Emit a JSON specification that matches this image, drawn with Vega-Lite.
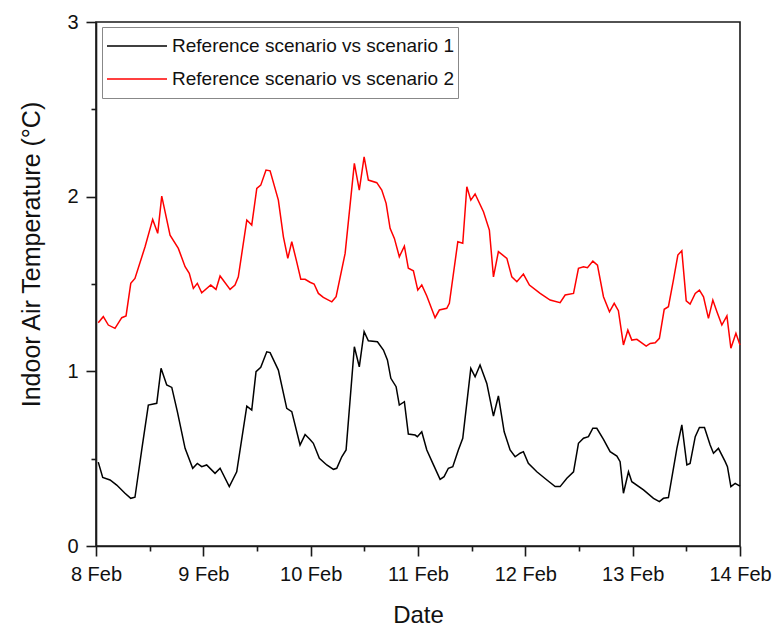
{
  "$schema": "https://vega.github.io/schema/vega-lite/v6.json",
  "autosize": "none",
  "width": 644,
  "height": 524,
  "padding": {"left": 96, "top": 22, "right": 41, "bottom": 82},
  "background": "white",
  "config": {
    "font": "Liberation Sans",
    "view": {"stroke": "#1a1a1a", "strokeWidth": 1.6}
  },
  "data": {"values": [
    {"s": "Reference scenario vs scenario 1", "d": 8.021, "v": 0.48},
    {"s": "Reference scenario vs scenario 1", "d": 8.0625, "v": 0.393},
    {"s": "Reference scenario vs scenario 1", "d": 8.131, "v": 0.378},
    {"s": "Reference scenario vs scenario 1", "d": 8.193, "v": 0.349},
    {"s": "Reference scenario vs scenario 1", "d": 8.27, "v": 0.302},
    {"s": "Reference scenario vs scenario 1", "d": 8.324, "v": 0.273},
    {"s": "Reference scenario vs scenario 1", "d": 8.363, "v": 0.279},
    {"s": "Reference scenario vs scenario 1", "d": 8.426, "v": 0.55},
    {"s": "Reference scenario vs scenario 1", "d": 8.4875, "v": 0.807},
    {"s": "Reference scenario vs scenario 1", "d": 8.566, "v": 0.817},
    {"s": "Reference scenario vs scenario 1", "d": 8.606, "v": 1.017},
    {"s": "Reference scenario vs scenario 1", "d": 8.659, "v": 0.922},
    {"s": "Reference scenario vs scenario 1", "d": 8.706, "v": 0.908},
    {"s": "Reference scenario vs scenario 1", "d": 8.758, "v": 0.769},
    {"s": "Reference scenario vs scenario 1", "d": 8.83, "v": 0.559},
    {"s": "Reference scenario vs scenario 1", "d": 8.901, "v": 0.445},
    {"s": "Reference scenario vs scenario 1", "d": 8.944, "v": 0.473},
    {"s": "Reference scenario vs scenario 1", "d": 8.985, "v": 0.454},
    {"s": "Reference scenario vs scenario 1", "d": 9.031, "v": 0.464},
    {"s": "Reference scenario vs scenario 1", "d": 9.109, "v": 0.416},
    {"s": "Reference scenario vs scenario 1", "d": 9.156, "v": 0.445},
    {"s": "Reference scenario vs scenario 1", "d": 9.242, "v": 0.34},
    {"s": "Reference scenario vs scenario 1", "d": 9.311, "v": 0.425},
    {"s": "Reference scenario vs scenario 1", "d": 9.405, "v": 0.801},
    {"s": "Reference scenario vs scenario 1", "d": 9.451, "v": 0.778},
    {"s": "Reference scenario vs scenario 1", "d": 9.491, "v": 0.998},
    {"s": "Reference scenario vs scenario 1", "d": 9.535, "v": 1.023},
    {"s": "Reference scenario vs scenario 1", "d": 9.591, "v": 1.112},
    {"s": "Reference scenario vs scenario 1", "d": 9.622, "v": 1.107},
    {"s": "Reference scenario vs scenario 1", "d": 9.699, "v": 1.007},
    {"s": "Reference scenario vs scenario 1", "d": 9.777, "v": 0.788},
    {"s": "Reference scenario vs scenario 1", "d": 9.824, "v": 0.769},
    {"s": "Reference scenario vs scenario 1", "d": 9.901, "v": 0.578},
    {"s": "Reference scenario vs scenario 1", "d": 9.948, "v": 0.638},
    {"s": "Reference scenario vs scenario 1", "d": 9.994, "v": 0.61},
    {"s": "Reference scenario vs scenario 1", "d": 10.025, "v": 0.588},
    {"s": "Reference scenario vs scenario 1", "d": 10.081, "v": 0.502},
    {"s": "Reference scenario vs scenario 1", "d": 10.15, "v": 0.464},
    {"s": "Reference scenario vs scenario 1", "d": 10.212, "v": 0.439},
    {"s": "Reference scenario vs scenario 1", "d": 10.243, "v": 0.445},
    {"s": "Reference scenario vs scenario 1", "d": 10.29, "v": 0.511},
    {"s": "Reference scenario vs scenario 1", "d": 10.33, "v": 0.55},
    {"s": "Reference scenario vs scenario 1", "d": 10.407, "v": 1.141},
    {"s": "Reference scenario vs scenario 1", "d": 10.453, "v": 1.026},
    {"s": "Reference scenario vs scenario 1", "d": 10.498, "v": 1.227},
    {"s": "Reference scenario vs scenario 1", "d": 10.5375, "v": 1.175},
    {"s": "Reference scenario vs scenario 1", "d": 10.622, "v": 1.169},
    {"s": "Reference scenario vs scenario 1", "d": 10.678, "v": 1.122},
    {"s": "Reference scenario vs scenario 1", "d": 10.715, "v": 1.065},
    {"s": "Reference scenario vs scenario 1", "d": 10.747, "v": 0.96},
    {"s": "Reference scenario vs scenario 1", "d": 10.796, "v": 0.912},
    {"s": "Reference scenario vs scenario 1", "d": 10.826, "v": 0.807},
    {"s": "Reference scenario vs scenario 1", "d": 10.873, "v": 0.826},
    {"s": "Reference scenario vs scenario 1", "d": 10.91, "v": 0.641},
    {"s": "Reference scenario vs scenario 1", "d": 10.973, "v": 0.635},
    {"s": "Reference scenario vs scenario 1", "d": 10.994, "v": 0.626},
    {"s": "Reference scenario vs scenario 1", "d": 11.035, "v": 0.654},
    {"s": "Reference scenario vs scenario 1", "d": 11.082, "v": 0.55},
    {"s": "Reference scenario vs scenario 1", "d": 11.138, "v": 0.473},
    {"s": "Reference scenario vs scenario 1", "d": 11.206, "v": 0.382},
    {"s": "Reference scenario vs scenario 1", "d": 11.243, "v": 0.397},
    {"s": "Reference scenario vs scenario 1", "d": 11.283, "v": 0.445},
    {"s": "Reference scenario vs scenario 1", "d": 11.324, "v": 0.454},
    {"s": "Reference scenario vs scenario 1", "d": 11.376, "v": 0.55},
    {"s": "Reference scenario vs scenario 1", "d": 11.417, "v": 0.617},
    {"s": "Reference scenario vs scenario 1", "d": 11.492, "v": 1.017},
    {"s": "Reference scenario vs scenario 1", "d": 11.532, "v": 0.969},
    {"s": "Reference scenario vs scenario 1", "d": 11.578, "v": 1.036},
    {"s": "Reference scenario vs scenario 1", "d": 11.641, "v": 0.931},
    {"s": "Reference scenario vs scenario 1", "d": 11.703, "v": 0.744},
    {"s": "Reference scenario vs scenario 1", "d": 11.749, "v": 0.859},
    {"s": "Reference scenario vs scenario 1", "d": 11.803, "v": 0.654},
    {"s": "Reference scenario vs scenario 1", "d": 11.858, "v": 0.55},
    {"s": "Reference scenario vs scenario 1", "d": 11.905, "v": 0.511},
    {"s": "Reference scenario vs scenario 1", "d": 11.951, "v": 0.531},
    {"s": "Reference scenario vs scenario 1", "d": 11.982, "v": 0.54},
    {"s": "Reference scenario vs scenario 1", "d": 12.028, "v": 0.473},
    {"s": "Reference scenario vs scenario 1", "d": 12.107, "v": 0.425},
    {"s": "Reference scenario vs scenario 1", "d": 12.201, "v": 0.378},
    {"s": "Reference scenario vs scenario 1", "d": 12.278, "v": 0.34},
    {"s": "Reference scenario vs scenario 1", "d": 12.324, "v": 0.34},
    {"s": "Reference scenario vs scenario 1", "d": 12.387, "v": 0.388},
    {"s": "Reference scenario vs scenario 1", "d": 12.449, "v": 0.425},
    {"s": "Reference scenario vs scenario 1", "d": 12.495, "v": 0.588},
    {"s": "Reference scenario vs scenario 1", "d": 12.542, "v": 0.617},
    {"s": "Reference scenario vs scenario 1", "d": 12.588, "v": 0.626},
    {"s": "Reference scenario vs scenario 1", "d": 12.629, "v": 0.674},
    {"s": "Reference scenario vs scenario 1", "d": 12.666, "v": 0.674},
    {"s": "Reference scenario vs scenario 1", "d": 12.728, "v": 0.611},
    {"s": "Reference scenario vs scenario 1", "d": 12.79, "v": 0.54},
    {"s": "Reference scenario vs scenario 1", "d": 12.853, "v": 0.515},
    {"s": "Reference scenario vs scenario 1", "d": 12.883, "v": 0.483},
    {"s": "Reference scenario vs scenario 1", "d": 12.914, "v": 0.302},
    {"s": "Reference scenario vs scenario 1", "d": 12.961, "v": 0.425},
    {"s": "Reference scenario vs scenario 1", "d": 12.992, "v": 0.368},
    {"s": "Reference scenario vs scenario 1", "d": 13.101, "v": 0.321},
    {"s": "Reference scenario vs scenario 1", "d": 13.194, "v": 0.273},
    {"s": "Reference scenario vs scenario 1", "d": 13.249, "v": 0.254},
    {"s": "Reference scenario vs scenario 1", "d": 13.287, "v": 0.273},
    {"s": "Reference scenario vs scenario 1", "d": 13.333, "v": 0.277},
    {"s": "Reference scenario vs scenario 1", "d": 13.412, "v": 0.559},
    {"s": "Reference scenario vs scenario 1", "d": 13.458, "v": 0.693},
    {"s": "Reference scenario vs scenario 1", "d": 13.505, "v": 0.464},
    {"s": "Reference scenario vs scenario 1", "d": 13.535, "v": 0.473},
    {"s": "Reference scenario vs scenario 1", "d": 13.583, "v": 0.626},
    {"s": "Reference scenario vs scenario 1", "d": 13.622, "v": 0.679},
    {"s": "Reference scenario vs scenario 1", "d": 13.669, "v": 0.679},
    {"s": "Reference scenario vs scenario 1", "d": 13.722, "v": 0.578},
    {"s": "Reference scenario vs scenario 1", "d": 13.753, "v": 0.531},
    {"s": "Reference scenario vs scenario 1", "d": 13.799, "v": 0.559},
    {"s": "Reference scenario vs scenario 1", "d": 13.862, "v": 0.483},
    {"s": "Reference scenario vs scenario 1", "d": 13.883, "v": 0.454},
    {"s": "Reference scenario vs scenario 1", "d": 13.915, "v": 0.34},
    {"s": "Reference scenario vs scenario 1", "d": 13.955, "v": 0.359},
    {"s": "Reference scenario vs scenario 1", "d": 14.0, "v": 0.343},
    {"s": "Reference scenario vs scenario 2", "d": 8.021, "v": 1.278},
    {"s": "Reference scenario vs scenario 2", "d": 8.068, "v": 1.313},
    {"s": "Reference scenario vs scenario 2", "d": 8.115, "v": 1.265},
    {"s": "Reference scenario vs scenario 2", "d": 8.177, "v": 1.246},
    {"s": "Reference scenario vs scenario 2", "d": 8.24, "v": 1.307},
    {"s": "Reference scenario vs scenario 2", "d": 8.28, "v": 1.317},
    {"s": "Reference scenario vs scenario 2", "d": 8.324, "v": 1.504},
    {"s": "Reference scenario vs scenario 2", "d": 8.363, "v": 1.532},
    {"s": "Reference scenario vs scenario 2", "d": 8.457, "v": 1.713},
    {"s": "Reference scenario vs scenario 2", "d": 8.528, "v": 1.87},
    {"s": "Reference scenario vs scenario 2", "d": 8.575, "v": 1.79},
    {"s": "Reference scenario vs scenario 2", "d": 8.6125, "v": 2.003},
    {"s": "Reference scenario vs scenario 2", "d": 8.69, "v": 1.78},
    {"s": "Reference scenario vs scenario 2", "d": 8.767, "v": 1.704},
    {"s": "Reference scenario vs scenario 2", "d": 8.83, "v": 1.599},
    {"s": "Reference scenario vs scenario 2", "d": 8.869, "v": 1.561},
    {"s": "Reference scenario vs scenario 2", "d": 8.907, "v": 1.475},
    {"s": "Reference scenario vs scenario 2", "d": 8.944, "v": 1.504},
    {"s": "Reference scenario vs scenario 2", "d": 8.985, "v": 1.45},
    {"s": "Reference scenario vs scenario 2", "d": 9.069, "v": 1.494},
    {"s": "Reference scenario vs scenario 2", "d": 9.118, "v": 1.469},
    {"s": "Reference scenario vs scenario 2", "d": 9.156, "v": 1.546},
    {"s": "Reference scenario vs scenario 2", "d": 9.249, "v": 1.469},
    {"s": "Reference scenario vs scenario 2", "d": 9.295, "v": 1.494},
    {"s": "Reference scenario vs scenario 2", "d": 9.326, "v": 1.541},
    {"s": "Reference scenario vs scenario 2", "d": 9.405, "v": 1.866},
    {"s": "Reference scenario vs scenario 2", "d": 9.451, "v": 1.837},
    {"s": "Reference scenario vs scenario 2", "d": 9.498, "v": 2.047},
    {"s": "Reference scenario vs scenario 2", "d": 9.535, "v": 2.066},
    {"s": "Reference scenario vs scenario 2", "d": 9.584, "v": 2.152},
    {"s": "Reference scenario vs scenario 2", "d": 9.622, "v": 2.148},
    {"s": "Reference scenario vs scenario 2", "d": 9.699, "v": 1.98},
    {"s": "Reference scenario vs scenario 2", "d": 9.746, "v": 1.77},
    {"s": "Reference scenario vs scenario 2", "d": 9.787, "v": 1.647},
    {"s": "Reference scenario vs scenario 2", "d": 9.824, "v": 1.742},
    {"s": "Reference scenario vs scenario 2", "d": 9.87, "v": 1.627},
    {"s": "Reference scenario vs scenario 2", "d": 9.908, "v": 1.527},
    {"s": "Reference scenario vs scenario 2", "d": 9.948, "v": 1.527},
    {"s": "Reference scenario vs scenario 2", "d": 9.994, "v": 1.51},
    {"s": "Reference scenario vs scenario 2", "d": 10.032, "v": 1.5},
    {"s": "Reference scenario vs scenario 2", "d": 10.072, "v": 1.446},
    {"s": "Reference scenario vs scenario 2", "d": 10.118, "v": 1.423},
    {"s": "Reference scenario vs scenario 2", "d": 10.197, "v": 1.398},
    {"s": "Reference scenario vs scenario 2", "d": 10.237, "v": 1.427},
    {"s": "Reference scenario vs scenario 2", "d": 10.321, "v": 1.675},
    {"s": "Reference scenario vs scenario 2", "d": 10.407, "v": 2.191},
    {"s": "Reference scenario vs scenario 2", "d": 10.453, "v": 2.038},
    {"s": "Reference scenario vs scenario 2", "d": 10.498, "v": 2.228},
    {"s": "Reference scenario vs scenario 2", "d": 10.5375, "v": 2.095},
    {"s": "Reference scenario vs scenario 2", "d": 10.616, "v": 2.08},
    {"s": "Reference scenario vs scenario 2", "d": 10.6625, "v": 2.038},
    {"s": "Reference scenario vs scenario 2", "d": 10.703, "v": 1.962},
    {"s": "Reference scenario vs scenario 2", "d": 10.74, "v": 1.819},
    {"s": "Reference scenario vs scenario 2", "d": 10.78, "v": 1.761},
    {"s": "Reference scenario vs scenario 2", "d": 10.826, "v": 1.656},
    {"s": "Reference scenario vs scenario 2", "d": 10.873, "v": 1.717},
    {"s": "Reference scenario vs scenario 2", "d": 10.91, "v": 1.59},
    {"s": "Reference scenario vs scenario 2", "d": 10.957, "v": 1.576},
    {"s": "Reference scenario vs scenario 2", "d": 10.998, "v": 1.465},
    {"s": "Reference scenario vs scenario 2", "d": 11.035, "v": 1.494},
    {"s": "Reference scenario vs scenario 2", "d": 11.082, "v": 1.431},
    {"s": "Reference scenario vs scenario 2", "d": 11.159, "v": 1.307},
    {"s": "Reference scenario vs scenario 2", "d": 11.199, "v": 1.351},
    {"s": "Reference scenario vs scenario 2", "d": 11.268, "v": 1.361},
    {"s": "Reference scenario vs scenario 2", "d": 11.292, "v": 1.389},
    {"s": "Reference scenario vs scenario 2", "d": 11.371, "v": 1.742},
    {"s": "Reference scenario vs scenario 2", "d": 11.417, "v": 1.733},
    {"s": "Reference scenario vs scenario 2", "d": 11.455, "v": 2.057},
    {"s": "Reference scenario vs scenario 2", "d": 11.492, "v": 1.98},
    {"s": "Reference scenario vs scenario 2", "d": 11.532, "v": 2.015},
    {"s": "Reference scenario vs scenario 2", "d": 11.61, "v": 1.914},
    {"s": "Reference scenario vs scenario 2", "d": 11.665, "v": 1.809},
    {"s": "Reference scenario vs scenario 2", "d": 11.703, "v": 1.541},
    {"s": "Reference scenario vs scenario 2", "d": 11.749, "v": 1.685},
    {"s": "Reference scenario vs scenario 2", "d": 11.828, "v": 1.647},
    {"s": "Reference scenario vs scenario 2", "d": 11.874, "v": 1.541},
    {"s": "Reference scenario vs scenario 2", "d": 11.921, "v": 1.513},
    {"s": "Reference scenario vs scenario 2", "d": 11.982, "v": 1.557},
    {"s": "Reference scenario vs scenario 2", "d": 12.038, "v": 1.494},
    {"s": "Reference scenario vs scenario 2", "d": 12.138, "v": 1.446},
    {"s": "Reference scenario vs scenario 2", "d": 12.231, "v": 1.408},
    {"s": "Reference scenario vs scenario 2", "d": 12.324, "v": 1.393},
    {"s": "Reference scenario vs scenario 2", "d": 12.371, "v": 1.437},
    {"s": "Reference scenario vs scenario 2", "d": 12.449, "v": 1.446},
    {"s": "Reference scenario vs scenario 2", "d": 12.495, "v": 1.59},
    {"s": "Reference scenario vs scenario 2", "d": 12.542, "v": 1.599},
    {"s": "Reference scenario vs scenario 2", "d": 12.579, "v": 1.593},
    {"s": "Reference scenario vs scenario 2", "d": 12.629, "v": 1.631},
    {"s": "Reference scenario vs scenario 2", "d": 12.672, "v": 1.608},
    {"s": "Reference scenario vs scenario 2", "d": 12.728, "v": 1.427},
    {"s": "Reference scenario vs scenario 2", "d": 12.784, "v": 1.341},
    {"s": "Reference scenario vs scenario 2", "d": 12.828, "v": 1.389},
    {"s": "Reference scenario vs scenario 2", "d": 12.867, "v": 1.347},
    {"s": "Reference scenario vs scenario 2", "d": 12.914, "v": 1.151},
    {"s": "Reference scenario vs scenario 2", "d": 12.955, "v": 1.236},
    {"s": "Reference scenario vs scenario 2", "d": 12.992, "v": 1.179},
    {"s": "Reference scenario vs scenario 2", "d": 13.039, "v": 1.183},
    {"s": "Reference scenario vs scenario 2", "d": 13.126, "v": 1.145},
    {"s": "Reference scenario vs scenario 2", "d": 13.163, "v": 1.16},
    {"s": "Reference scenario vs scenario 2", "d": 13.21, "v": 1.164},
    {"s": "Reference scenario vs scenario 2", "d": 13.249, "v": 1.189},
    {"s": "Reference scenario vs scenario 2", "d": 13.294, "v": 1.355},
    {"s": "Reference scenario vs scenario 2", "d": 13.333, "v": 1.37},
    {"s": "Reference scenario vs scenario 2", "d": 13.38, "v": 1.523},
    {"s": "Reference scenario vs scenario 2", "d": 13.421, "v": 1.666},
    {"s": "Reference scenario vs scenario 2", "d": 13.458, "v": 1.69},
    {"s": "Reference scenario vs scenario 2", "d": 13.499, "v": 1.404},
    {"s": "Reference scenario vs scenario 2", "d": 13.535, "v": 1.385},
    {"s": "Reference scenario vs scenario 2", "d": 13.583, "v": 1.446},
    {"s": "Reference scenario vs scenario 2", "d": 13.622, "v": 1.465},
    {"s": "Reference scenario vs scenario 2", "d": 13.66, "v": 1.427},
    {"s": "Reference scenario vs scenario 2", "d": 13.706, "v": 1.303},
    {"s": "Reference scenario vs scenario 2", "d": 13.747, "v": 1.408},
    {"s": "Reference scenario vs scenario 2", "d": 13.785, "v": 1.341},
    {"s": "Reference scenario vs scenario 2", "d": 13.831, "v": 1.265},
    {"s": "Reference scenario vs scenario 2", "d": 13.878, "v": 1.317},
    {"s": "Reference scenario vs scenario 2", "d": 13.915, "v": 1.132},
    {"s": "Reference scenario vs scenario 2", "d": 13.962, "v": 1.218},
    {"s": "Reference scenario vs scenario 2", "d": 14.0, "v": 1.151}
  ]},
  "mark": {"type": "line", "strokeWidth": 1.5},
  "encoding": {
    "x": {
      "field": "d",
      "type": "quantitative",
      "scale": {"domain": [8, 14], "nice": false, "zero": false},
      "axis": {
        "title": "Date",
        "values": [8, 8.5, 9, 9.5, 10, 10.5, 11, 11.5, 12, 12.5, 13, 13.5, 14],
        "labelExpr": "datum.value % 1 == 0 ? datum.value + ' Feb' : ''",
        "tickSize": 10,
        "tickDash": {"condition": {"test": "datum.value % 1 == 0", "value": [20, 1]}, "value": [5, 20]},
        "grid": false,
        "domainColor": "#1a1a1a",
        "domainWidth": 1.6,
        "tickColor": "#1a1a1a",
        "tickWidth": 1.6,
        "labelFontSize": 20,
        "labelColor": "#111",
        "labelPadding": 8,
        "labelFlush": false,
        "labelOverlap": false,
        "titleFontSize": 24,
        "titleFontWeight": "normal",
        "titleColor": "#111",
        "titleBaseline": "alphabetic",
        "titleY": 76
      }
    },
    "y": {
      "field": "v",
      "type": "quantitative",
      "scale": {"domain": [0, 3], "nice": false},
      "axis": {
        "title": "Indoor Air Temperature (°C)",
        "values": [0, 0.5, 1, 1.5, 2, 2.5, 3],
        "labelExpr": "datum.value % 1 == 0 ? format(datum.value, 'd') : ''",
        "tickSize": 10,
        "tickDash": {"condition": {"test": "datum.value % 1 == 0", "value": [20, 1]}, "value": [5, 20]},
        "grid": false,
        "domainColor": "#1a1a1a",
        "domainWidth": 1.6,
        "tickColor": "#1a1a1a",
        "tickWidth": 1.6,
        "labelFontSize": 20,
        "labelColor": "#111",
        "labelPadding": 8,
        "labelFlush": false,
        "titleFontSize": 25,
        "titleFontWeight": "normal",
        "titleColor": "#111",
        "titleBaseline": "alphabetic",
        "titleAlign": "center",
        "titleAngle": -90,
        "titleX": -57,
        "titleY": 232
      }
    },
    "color": {
      "field": "s",
      "type": "nominal",
      "scale": {
        "domain": ["Reference scenario vs scenario 1", "Reference scenario vs scenario 2"],
        "range": ["#000000", "#ff0000"]
      },
      "legend": {
        "title": null,
        "orient": "none",
        "legendX": 6,
        "legendY": 5,
        "strokeColor": "#888888",
        "fillColor": "white",
        "padding": 4,
        "symbolType": "stroke",
        "symbolSize": 3600,
        "symbolStrokeWidth": 1.5,
        "clipHeight": 30,
        "labelFontSize": 19,
        "labelColor": "#111",
        "labelOffset": 4,
        "labelLimit": 400,
        "rowPadding": 3
      }
    }
  }
}
